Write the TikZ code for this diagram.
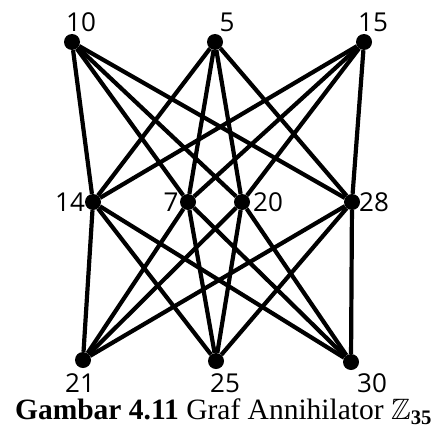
\documentclass[tikz,border=0pt]{standalone}
\usepackage{amssymb}
\usepackage{fontspec}
\setmainfont{Liberation Serif}
\newfontfamily\lblfont{Open Sans}
\usetikzlibrary{positioning}

\begin{document}
\begin{tikzpicture}[
    x=1pt, y=-1pt,
    vertex/.style={circle, fill=black, inner sep=0pt, minimum size=16pt},
    edge/.style={line width=4.2pt, draw=black},
    lbl/.style={inner sep=0pt, font=\lblfont\fontsize{26}{28}\selectfont},
    caption/.style={inner sep=0pt, font=\fontsize{29.5}{31}\selectfont}
]
\useasboundingbox (0,0) rectangle (433,428);

% vertices
\node[vertex] (v10) at (72,42) {};
\node[vertex] (v5) at (215,42) {};
\node[vertex] (v15) at (364,42) {};
\node[vertex] (v14) at (93,202) {};
\node[vertex] (v7) at (188,202) {};
\node[vertex] (v20) at (242,202) {};
\node[vertex] (v28) at (352,202) {};
\node[vertex] (v21) at (83,360) {};
\node[vertex] (v25) at (216,361) {};
\node[vertex] (v30) at (351,362) {};

% edges
\foreach \a in {10,5,15,21,25,30}
  \foreach \b in {14,7,20,28}
    \draw[edge] (v\a) -- (v\b);

% labels
\node[lbl] (t10) at (81,22) {10};
\node[lbl] (t5) at (227,22) {5};
\node[lbl] (t15) at (373,22) {15};
\node[lbl] (t14) at (70,202) {14};
\node[lbl] (t7) at (171,202) {7};
\node[lbl] (t20) at (268,202) {20};
\node[lbl] (t28) at (374,202) {28};
\node[lbl] (t21) at (80,383) {21};
\node[lbl] (t25) at (225,383) {25};
\node[lbl] (t30) at (372,383) {30};

\node[caption] (cap) at (223.5,412) {\textbf{Gambar 4.11} Graf Annihilator $\mathbb{Z}_{\mathbf{35}}$};
\end{tikzpicture}
\end{document}
